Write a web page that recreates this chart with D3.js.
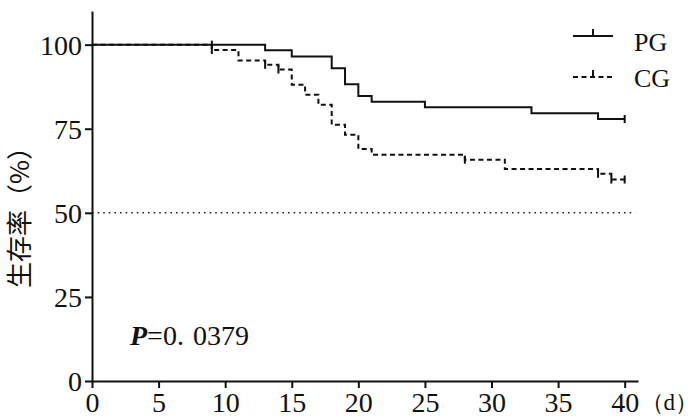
<!DOCTYPE html>
<html>
<head>
<meta charset="utf-8">
<script src="https://cdn.jsdelivr.net/npm/d3@7"></script>
<style>
  body { margin: 0; background: #fff; }
  svg text { fill: #111; }
</style>
</head>
<body>
<svg id="chart"></svg>
<script>
// survival curves (time in days, survival in %)
var pgTime = [0, 13, 15, 18, 19, 20, 21, 25, 33, 38, 40]
var pgSurv = [100, 98.3, 96.5, 93.0, 88.2, 84.7, 83.0, 81.4, 79.6, 77.9, 77.9]
var pgCensor = [9, 40]

var cgTime = [0, 9, 11, 13, 14, 15, 16, 17, 18, 19, 20, 21, 28, 31, 38, 39, 40]
var cgSurv = [100, 98.4, 95.3, 94.0, 92.6, 88.1, 85.1, 82.1, 76.2, 73.2, 69.0, 67.3, 65.8, 63.0, 61.6, 59.9, 59.9]
var cgCensor = [9, 13, 14, 28, 38, 39, 40]

var xTicks = [0, 5, 10, 15, 20, 25, 30, 35, 40]
var yTicks = [0, 25, 50, 75, 100]
var refLine = 50

var width = 700, height = 419
var margin = {top: 11, right: 62, bottom: 38, left: 92}
var serif = '"Liberation Serif", "DejaVu Serif", serif'

var svg = d3.select('#chart')
    .attr('width', width)
    .attr('height', height)

var x = d3.scaleLinear().domain([0, 41]).range([margin.left, width - margin.right])
var y = d3.scaleLinear().domain([0, 110]).range([height - margin.bottom, margin.top])

function toPoints (times, surv) {
  return times.map(function (t, i) { return [t, surv[i]] })
}
var pg = toPoints(pgTime, pgSurv)
var cg = toPoints(cgTime, cgSurv)

// value of a step curve at time t
function survAt (times, surv, t) {
  var v = surv[0]
  times.forEach(function (tt, i) { if (tt <= t) v = surv[i] })
  return v
}

var line = d3.line()
    .x(function (d) { return x(d[0]) })
    .y(function (d) { return y(d[1]) })
    .curve(d3.curveStepAfter)

// 50% reference
svg.append('line')
    .attr('x1', x(0)).attr('x2', x(40.8))
    .attr('y1', y(refLine)).attr('y2', y(refLine))
    .attr('stroke', '#222')
    .attr('stroke-width', 1.6)
    .attr('stroke-dasharray', '1.6,4')

// curves
svg.append('path')
    .datum(cg)
    .attr('d', line)
    .attr('fill', 'none')
    .attr('stroke', '#111')
    .attr('stroke-width', 2)
    .attr('stroke-dasharray', '5,3.5')

svg.append('path')
    .datum(pg)
    .attr('d', line)
    .attr('fill', 'none')
    .attr('stroke', '#111')
    .attr('stroke-width', 2)

// censor marks
function censorMarks (times, surv, marks) {
  svg.selectAll(null)
      .data(marks)
    .enter().append('line')
      .attr('x1', function (t) { return x(t) })
      .attr('x2', function (t) { return x(t) })
      .attr('y1', function (t) { return y(survAt(times, surv, t)) - 4 })
      .attr('y2', function (t) { return y(survAt(times, surv, t)) + 4 })
      .attr('stroke', '#111')
      .attr('stroke-width', 2)
}
censorMarks(pgTime, pgSurv, pgCensor)
censorMarks(cgTime, cgSurv, cgCensor)

// axes
var xAxis = svg.append('g')
    .attr('transform', 'translate(0,' + y(0) + ')')
    .call(d3.axisBottom(x).tickValues(xTicks).tickSize(7).tickPadding(4).tickSizeOuter(0))
var yAxis = svg.append('g')
    .attr('transform', 'translate(' + x(0) + ',0)')
    .call(d3.axisLeft(y).tickValues(yTicks).tickSize(7).tickPadding(3).tickSizeOuter(0))

;[xAxis, yAxis].forEach(function (g) {
  g.select('.domain').attr('stroke', '#111').attr('stroke-width', 2)
  g.selectAll('.tick line').attr('stroke', '#111').attr('stroke-width', 2)
  g.selectAll('.tick text')
      .attr('font-family', serif)
      .attr('font-size', 28)
      .attr('fill', '#111')
})
yAxis.selectAll('.tick text').attr('dy', '0.34em')

// axis titles
svg.append('text')
    .attr('x', 698)
    .attr('y', 410)
    .attr('text-anchor', 'end')
    .attr('font-family', serif)
    .attr('font-size', 23)
    .text('（d）')

svg.append('text')
    .attr('transform', 'translate(29,' + 211 + ') rotate(-90)')
    .attr('text-anchor', 'middle')
    .attr('font-family', '"Noto Sans CJK SC", sans-serif')
    .attr('font-size', 26)
    .text('生存率（%）')

// p value
var p = svg.append('text')
    .attr('x', 130)
    .attr('y', 345)
    .attr('font-family', serif)
    .attr('font-size', 28)
p.append('tspan').attr('font-style', 'italic').attr('font-weight', 'bold').text('P')
p.append('tspan').text('=0.')
p.append('tspan').attr('dx', 9).text('0379')

// legend
var legend = [
  {label: 'PG', dash: null, y: 36},
  {label: 'CG', dash: '5,3.5', y: 77}
]
legend.forEach(function (d) {
  svg.append('line')
      .attr('x1', 573).attr('x2', 613)
      .attr('y1', d.y).attr('y2', d.y)
      .attr('stroke', '#111')
      .attr('stroke-width', 2)
      .attr('stroke-dasharray', d.dash)
  svg.append('line')
      .attr('x1', 593).attr('x2', 593)
      .attr('y1', d.y - 7).attr('y2', d.y)
      .attr('stroke', '#111')
      .attr('stroke-width', 2)
  svg.append('text')
      .attr('x', 634)
      .attr('y', d.y + 15 - (d.label === 'CG' ? 5 : 0))
      .attr('font-family', serif)
      .attr('font-size', 26)
      .text(d.label)
})
</script>
</body>
</html>
